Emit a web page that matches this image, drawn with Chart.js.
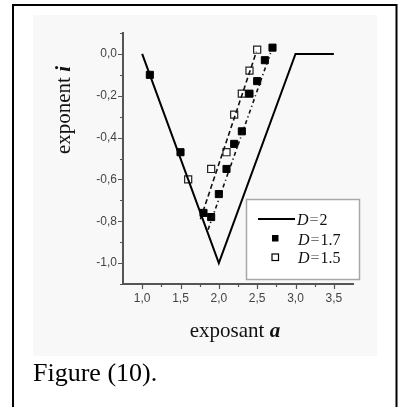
<!DOCTYPE html>
<html>
<head>
<meta charset="utf-8">
<script src="https://cdn.jsdelivr.net/npm/chart.js@4/dist/chart.umd.min.js"></script>
<style>
  html, body { margin: 0; padding: 0; background: #ffffff; }
  #c { display: block; }
</style>
</head>
<body>
<canvas id="c" width="409" height="407"></canvas>
<script>
// ---- data ----
const aTheory = [1.0, 2.0, 3.0, 3.5];
const iTheory = [0.0, -1.0, 0.0, 0.0];

const a17 = [1.1, 1.5, 1.8, 1.9, 2.0, 2.1, 2.2, 2.3, 2.4, 2.5, 2.6, 2.7];
const i17 = [-0.10, -0.47, -0.76, -0.78, -0.67, -0.55, -0.43, -0.37, -0.19, -0.13, -0.03, 0.03];

const a15 = [1.6, 1.9, 2.1, 2.2, 2.3, 2.4, 2.5];
const i15 = [-0.60, -0.55, -0.47, -0.29, -0.19, -0.08, 0.02];

const aFit15 = [1.76, 2.49];
const iFit15 = [-0.79, 0.01];

const aFit17 = [1.86, 2.68];
const iFit17 = [-0.84, 0.01];

const xTickValues = [1.0, 1.5, 2.0, 2.5, 3.0, 3.5];
const yTickValues = [-1.0, -0.8, -0.6, -0.4, -0.2, 0.0];
const xMinorValues = [1.25, 1.75, 2.25, 2.75, 3.25];
const yMinorValues = [-1.1, -0.9, -0.7, -0.5, -0.3, -0.1, 0.1];

const legendLabels = ['2', '1.7', '1.5'];
const xTitleText = 'exposant ';
const xTitleVar = 'a';
const yTitleText = 'exponent ';
const yTitleVar = 'i';
const captionText = 'Figure (10).';

const pts = (xs, ys) => xs.map((x, k) => ({ x: x, y: ys[k] }));
const fmt = v => { let s = Math.abs(v) < 1e-9 ? '0.0' : v.toFixed(1); return s.replace('.', ','); };

const deco = {
  id: 'deco',
  beforeDraw(chart) {
    const c = chart.ctx;
    c.save();
    c.fillStyle = '#ffffff';
    c.fillRect(0, 0, chart.width, chart.height);
    c.fillStyle = '#f8f8f8';
    c.fillRect(33, 15, 344, 341);
    c.strokeStyle = '#000000';
    c.lineWidth = 2;
    c.beginPath();
    c.moveTo(13, 420); c.lineTo(13, 5); c.lineTo(396.5, 5); c.lineTo(396.5, 420);
    c.stroke();
    c.restore();
  },
  afterDraw(chart) {
    const c = chart.ctx;
    const xs = chart.scales.x, ys = chart.scales.y;
    const axY = ys.bottom, axX = xs.left;
    c.save();
    // ticks
    c.strokeStyle = '#555';
    c.lineWidth = 1.2;
    c.beginPath();
    xTickValues.forEach(v => { const p = Math.round(xs.getPixelForValue(v)) + 0.5; c.moveTo(p, axY); c.lineTo(p, axY + 5); });
    xMinorValues.forEach(v => { const p = Math.round(xs.getPixelForValue(v)) + 0.5; c.moveTo(p, axY); c.lineTo(p, axY + 3); });
    yTickValues.forEach(v => { const p = Math.round(ys.getPixelForValue(v)) + 0.5; c.moveTo(axX, p); c.lineTo(axX - 5, p); });
    yMinorValues.forEach(v => { const p = Math.round(ys.getPixelForValue(v)) + 0.5; c.moveTo(axX, p); c.lineTo(axX - 3, p); });
    c.stroke();

    // x title
    c.fillStyle = '#111';
    c.textBaseline = 'alphabetic';
    const tf = '21px "Liberation Serif"';
    const vf = 'italic bold 21px "Liberation Serif"';
    c.font = tf; const w1 = c.measureText(xTitleText).width;
    c.font = vf; const w2 = c.measureText(xTitleVar).width;
    let x0 = 235 - (w1 + w2) / 2;
    c.textAlign = 'left';
    c.font = tf; c.fillText(xTitleText, x0, 337);
    c.font = vf; c.fillText(xTitleVar, x0 + w1, 337);

    // y title (rotated)
    c.save();
    c.translate(70, 110);
    c.rotate(-Math.PI / 2);
    c.font = tf; const w3 = c.measureText(yTitleText).width;
    c.font = vf; const w4 = c.measureText(yTitleVar).width;
    const y0 = -(w3 + w4) / 2;
    c.font = tf; c.fillText(yTitleText, y0, 0);
    c.font = vf; c.fillText(yTitleVar, y0 + w3, 0);
    c.restore();

    // legend
    c.fillStyle = '#ffffff';
    c.fillRect(246.5, 199.5, 113, 80);
    c.strokeStyle = '#a8a8a8';
    c.lineWidth = 1.5;
    c.strokeRect(246.5, 199.5, 113, 80);
    c.strokeStyle = '#000';
    c.lineWidth = 2;
    c.beginPath(); c.moveTo(258, 219); c.lineTo(295, 219); c.stroke();
    c.fillStyle = '#000';
    c.fillRect(272, 235, 6.5, 6.5);
    c.lineWidth = 1.2;
    c.fillStyle = '#fff';
    c.fillRect(272, 254, 6.5, 6.5);
    c.strokeRect(272, 254, 6.5, 6.5);
    const baselines = [224.5, 245, 263];
    const lx = [297, 298, 298];
    legendLabels.forEach((lab, k) => {
      c.fillStyle = '#111';
      c.font = 'italic 16px "Liberation Serif"';
      c.fillText('D', lx[k], baselines[k]);
      let wx = lx[k] + c.measureText('D').width + 1;
      c.font = '16px "Liberation Serif"';
      c.fillStyle = '#777';
      c.fillText('=', wx, baselines[k]);
      wx += c.measureText('=').width + 1;
      c.fillStyle = '#111';
      c.fillText(lab, wx, baselines[k]);
    });

    // caption
    c.fillStyle = '#000';
    c.font = '26px "Liberation Serif"';
    c.fillText(captionText, 33, 381);
    c.restore();
  }
};

const tickFont = { family: '"Liberation Sans", Arial, sans-serif', size: 12 };

new Chart(document.getElementById('c').getContext('2d'), {
  type: 'scatter',
  data: {
    datasets: [
      { label: 'D = 2', data: pts(aTheory, iTheory), showLine: true, borderColor: '#000', borderWidth: 2, pointRadius: 0, fill: false },
      { label: 'fit 1.5', data: pts(aFit15, iFit15), showLine: true, borderColor: '#111', borderWidth: 1.6, borderDash: [5, 3], pointRadius: 0 },
      { label: 'fit 1.7', data: pts(aFit17, iFit17), showLine: true, borderColor: '#111', borderWidth: 1.6, borderDash: [4, 3, 1.2, 3], pointRadius: 0 },
      { label: 'D = 1.7', data: pts(a17, i17), pointStyle: 'rect', pointRadius: 5, backgroundColor: '#000', borderColor: '#000', borderWidth: 1 },
      { label: 'D = 1.5', data: pts(a15, i15), pointStyle: 'rect', pointRadius: 5, backgroundColor: '#fff', borderColor: '#222', borderWidth: 1.2 }
    ]
  },
  options: {
    responsive: false,
    animation: false,
    layout: { padding: { left: 0, right: 56, top: 33, bottom: 0 } },
    plugins: { legend: { display: false }, tooltip: { enabled: false } },
    scales: {
      x: {
        type: 'linear', min: 0.75, max: 3.75,
        afterBuildTicks: s => { s.ticks = xTickValues.map(v => ({ value: v })); },
        afterFit: s => { s.height = 123; },
        grid: { display: false, drawTicks: false },
        border: { display: true, color: '#555', width: 2 },
        ticks: { font: tickFont, color: '#444', padding: 7, maxRotation: 0, autoSkip: false, callback: v => fmt(v) }
      },
      y: {
        type: 'linear', min: -1.1, max: 0.1,
        afterBuildTicks: s => { s.ticks = yTickValues.map(v => ({ value: v })); },
        afterFit: s => { s.width = 123; },
        grid: { display: false, drawTicks: false },
        border: { display: true, color: '#555', width: 2 },
        ticks: { font: tickFont, color: '#444', padding: 6, autoSkip: false, callback: v => fmt(v) }
      }
    }
  },
  plugins: [deco]
});
</script>
</body>
</html>
